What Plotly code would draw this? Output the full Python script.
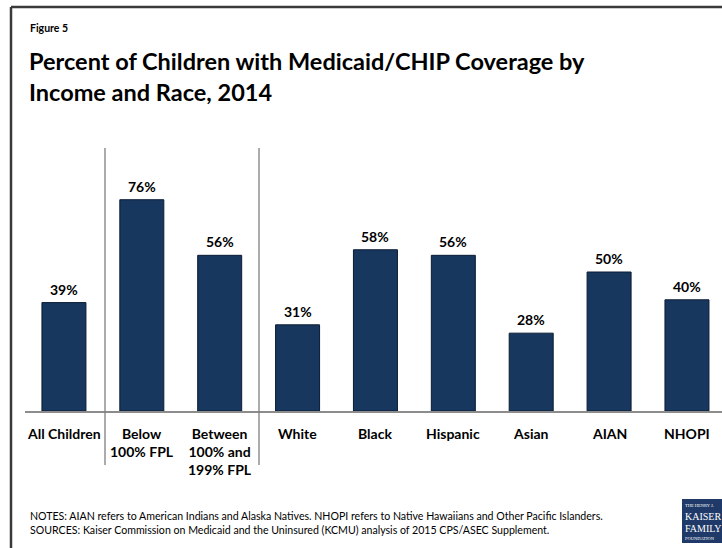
import plotly.graph_objects as go

categories = ["All Children", "Below 100% FPL", "Between 100% and 199% FPL",
              "White", "Black", "Hispanic", "Asian", "AIAN", "NHOPI"]
tick_labels = ["All Children", "Below<br>100% FPL", "Between<br>100% and<br>199% FPL",
               "White", "Black", "Hispanic", "Asian", "AIAN", "NHOPI"]
values = [39, 76, 56, 31, 58, 56, 28, 50, 40]

W, H = 722, 548
L, R, T, B = 25, 0, 140, 137
PW, PH = W - L - R, H - T - B

def px(x):
    return (x - L) / PW

def py(y):
    return (H - B - y) / PH

FONT = "Lato"
BAR = "#17375e"

fig = go.Figure()
fig.add_trace(go.Bar(
    x=categories, y=values,
    marker=dict(color=BAR, line=dict(color="#0b1c33", width=1)),
    width=0.565,
    hoverinfo="skip",
))

annotations = []
for c, v in zip(categories, values):
    annotations.append(dict(
        x=c, y=v, xref="x", yref="y", text=f"<b>{v}%</b>", showarrow=False,
        yanchor="bottom", yshift=3,
        font=dict(family=FONT, size=14, color="#000000"),
    ))
for c, t in zip(categories, tick_labels):
    annotations.append(dict(
        x=c, y=0, xref="x", yref="y", text=f"<b>{t}</b>", showarrow=False,
        yanchor="top", yshift=-12, align="center",
        font=dict(family=FONT, size=14, color="#000000"),
    ))

# Titles and notes
annotations += [
    dict(xref="paper", yref="paper", x=px(28), y=py(20), xanchor="left", yanchor="top",
         text="<b>Figure 5</b>", showarrow=False,
         font=dict(family=FONT, size=10.5, color="#000000")),
    dict(xref="paper", yref="paper", x=px(27), y=py(45), xanchor="left", yanchor="top",
         text="<b>Percent of Children with Medicaid/CHIP Coverage by<br>Income and Race, 2014</b>",
         showarrow=False, align="left",
         font=dict(family=FONT, size=23.5, color="#000000")),
    dict(xref="paper", yref="paper", x=px(28), y=py(508), xanchor="left", yanchor="top",
         text="NOTES: AIAN refers to American Indians and Alaska Natives. NHOPI refers to Native Hawaiians and Other Pacific Islanders.<br>"
              "SOURCES: Kaiser Commission on Medicaid and the Uninsured (KCMU) analysis of 2015 CPS/ASEC Supplement.",
         showarrow=False, align="left",
         font=dict(family=FONT, size=10.6, color="#000000")),
]

# Logo
logo_lines = [("THE HENRY J.", 4.5, 505), ("KAISER", 10, 516), ("FAMILY", 10, 528), ("FOUNDATION", 4.5, 538)]
for txt, sz, yy in logo_lines:
    annotations.append(dict(
        xref="paper", yref="paper", x=px(684), y=py(yy), xanchor="left", yanchor="middle",
        text=txt, showarrow=False, borderpad=0,
        font=dict(family="Liberation Serif", size=sz, color="#ffffff")))

shapes = [
    # frame
    dict(type="line", xref="paper", yref="paper", x0=px(11), x1=px(740), y0=py(7), y1=py(7),
         line=dict(color="#3a3a3a", width=2.5)),
    dict(type="line", xref="paper", yref="paper", x0=px(11), x1=px(11), y0=py(7), y1=py(560),
         line=dict(color="#3a3a3a", width=2.5)),
    # separators
    dict(type="line", xref="paper", yref="paper", x0=px(105), x1=px(105), y0=py(148), y1=py(465),
         line=dict(color="#7f7f7f", width=1.3)),
    dict(type="line", xref="paper", yref="paper", x0=px(259), x1=px(259), y0=py(148), y1=py(465),
         line=dict(color="#7f7f7f", width=1.3)),
    # logo box
    dict(type="rect", xref="paper", yref="paper", x0=px(682), x1=px(730), y0=py(499), y1=py(543),
         fillcolor="#1f3a68", line=dict(width=0), layer="below"),
]

fig.update_layout(
    width=W, height=H,
    margin=dict(l=L, r=R, t=T, b=B, pad=0),
    paper_bgcolor="#ffffff", plot_bgcolor="#ffffff",
    showlegend=False,
    xaxis=dict(range=[-0.5, 8.45], showticklabels=False, showgrid=False, zeroline=False,
               showline=True, linecolor="#8c8c8c", linewidth=1.5, ticks="",
               fixedrange=True),
    yaxis=dict(range=[0, PH / 2.78], visible=False, showgrid=False, zeroline=False,
               fixedrange=True),
    annotations=annotations,
    shapes=shapes,
)

fig.write_html("out.html", config={"displayModeBar": False})
